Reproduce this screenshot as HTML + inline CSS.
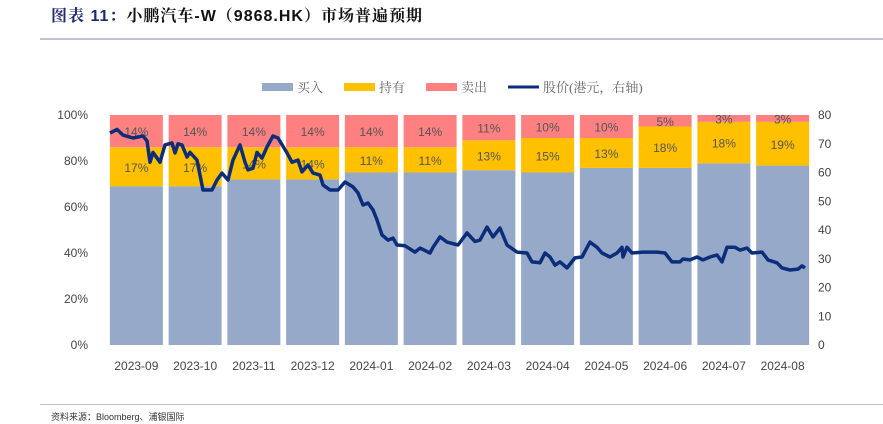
<!DOCTYPE html>
<html><head><meta charset="utf-8"><style>
body{margin:0;width:883px;height:424px;background:#fff;overflow:hidden;font-family:"Liberation Sans","Noto Sans CJK SC",sans-serif;position:relative}
.title{position:absolute;left:51px;top:3px;font-size:16px;font-weight:bold;color:#111;letter-spacing:1px;font-family:"Liberation Sans","Noto Serif CJK SC",serif}
.title span{color:#1f2a6e}
.rule{position:absolute;left:40px;right:0;height:2px;background:#c0c0d8}
.foot{position:absolute;left:51px;top:410px;font-size:9px;color:#333}
</style></head><body>
<div class="title"><span>图表 11：</span>小鹏汽车-W（9868.HK）市场普遍预期</div>
<div class="rule" style="top:38px"></div>
<div class="rule" style="top:404px;height:1px"></div>
<div class="foot">资料来源：Bloomberg、浦银国际</div>
<svg id="chart" width="883" height="424" style="position:absolute;left:0;top:0"></svg>
<script>
const categories=["2023-09","2023-10","2023-11","2023-12","2024-01","2024-02","2024-03","2024-04","2024-05","2024-06","2024-07","2024-08"];
const buyPct=[69,69,72,72,75,75,76,75,77,77,79,78];
const holdPct=[17,17,14,14,11,11,13,15,13,18,18,19];
const sellPct=[14,14,14,14,14,14,11,10,10,5,3,3];
const leftTicks=[0,20,40,60,80,100];
const rightTicks=[0,10,20,30,40,50,60,70,80];
const priceDays=[1,4.5,7.5,12.5,17.5,19.5,21,22.5,26,28.5,32,33.5,35,37,39.5,41,44.5,47.5,52,54.5,57,60,62.5,66,68.5,70,72.5,74.5,77,79.5,82.5,85,89.5,92,95,97,100,102.5,106,107.5,111,115,118.5,122.5,125,127.5,130,132.5,134.5,137,140,142.5,144.5,148.5,153.5,156,161,162.5,166,169.5,175,179.5,183.5,186,189.5,192.5,196,199.5,204.5,209.5,212,216,218.5,221,223.5,226,229.5,233.5,237,241,244.5,247,251,254.5,257,257.5,259.5,262,267.5,274.5,278.5,282,286,287.5,291,294.5,297.5,301,304.5,307,309.5,313.5,316,319.5,322,327,330,334.5,337,341,345,347,348.5];
const priceVals=[73.7,75,73,72,72.7,71,63.6,67,63.6,69.6,70.3,66.8,70,69.6,65.4,67,64.3,53.9,53.9,57.4,59.8,57.4,64.3,69.6,63.6,60.9,61.5,67,65,68.9,72.7,72,66.8,63.6,64.3,60.2,62.6,59.8,59.1,55.7,53.9,53.9,56.7,55,52.9,48.7,49.4,47,43.5,38.3,36.5,37.2,34.8,34.5,32.3,33.7,32,34,37.6,35.8,34.8,39,36,36.5,41,37.6,40.7,34.8,32.3,32,28.9,28.6,32,30.6,27.8,28.9,26.8,30.3,30.6,35.8,34,32,30.6,32,34,30.6,34,32,32.3,32.3,32,28.9,28.9,29.9,29.6,30.6,29.6,30.6,31.3,28.9,34,34,33,33.7,32,32.3,29.6,28.6,26.8,26.1,26.4,27.5,26.8];
const svg=document.getElementById('chart');const NS='http://www.w3.org/2000/svg';
const L=107,R=812,T=115,B=345,N=categories.length,step=(R-L)/N,bw=53;
const yL=v=>B-(B-T)*v/100,yR=v=>B-(B-T)*v/80,xC=i=>L+step*(i+0.5);
const xD=d=>L+1+d*2;
function mk(t,a,txt){const e=document.createElementNS(NS,t);for(const k in a)e.setAttribute(k,a[k]);if(txt!==undefined)e.textContent=txt;svg.appendChild(e);return e;}
const cols=["#97a9c9","#ffc000","#ff8081"];
for(let i=0;i<N;i++){
 const x=xC(i)-bw/2;let base=0;
 const segs=[buyPct[i],holdPct[i],sellPct[i]];
 segs.forEach((v,j)=>{
  const r=mk('rect',{x:x,y:yL(base+v),width:bw,height:yL(base)-yL(base+v),fill:cols[j]});
  
  
  if(j>0){const t=mk('text',{x:xC(i),y:yL(base+v/2)+5,'text-anchor':'middle','font-size':12,fill:'#555'},v+'%');
   
   }
  base+=v;});
 const xl=mk('text',{x:xC(i),y:370,'text-anchor':'middle','font-size':12,fill:'#444'},categories[i]);
 
 
}
leftTicks.forEach(v=>{const t=mk('text',{x:88,y:yL(v)+4,'text-anchor':'end','font-size':12,fill:'#444'},v+'%');
 
 });
rightTicks.forEach(v=>{const t=mk('text',{x:818,y:yR(v)+4,'font-size':12,fill:'#444'},v);
 
 });
const pts=priceDays.map((d,i)=>xD(d).toFixed(1)+','+yR(priceVals[i]).toFixed(1)).join(' ');
const pl=mk('polyline',{points:pts,fill:'none',stroke:'#0b2d7a','stroke-width':3.5,'stroke-linejoin':'round'});


const leg=[["买入",262,"rect",cols[0]],["持有",344,"rect",cols[1]],["卖出",426,"rect",cols[2]],["股价(港元，右轴)",508,"line","#0b2d7a"]];
leg.forEach(l=>{
 const g=document.createElementNS(NS,'g');svg.appendChild(g);
 
 
 if(l[2]=='rect'){const r=document.createElementNS(NS,'rect');r.setAttribute('x',l[1]);r.setAttribute('y',83);r.setAttribute('width',31);r.setAttribute('height',8);r.setAttribute('fill',l[3]);g.appendChild(r);}
 else{const r=document.createElementNS(NS,'line');r.setAttribute('x1',l[1]);r.setAttribute('x2',l[1]+31);r.setAttribute('y1',87);r.setAttribute('y2',87);r.setAttribute('stroke',l[3]);r.setAttribute('stroke-width',3);g.appendChild(r);}
 const t=document.createElementNS(NS,'text');t.setAttribute('x',l[1]+35);t.setAttribute('y',92);t.setAttribute('font-size',13);t.setAttribute('fill','#666');t.setAttribute('font-family','"Liberation Serif","Noto Serif CJK SC",serif');t.textContent=l[0];g.appendChild(t);
});
</script>
</body></html>
